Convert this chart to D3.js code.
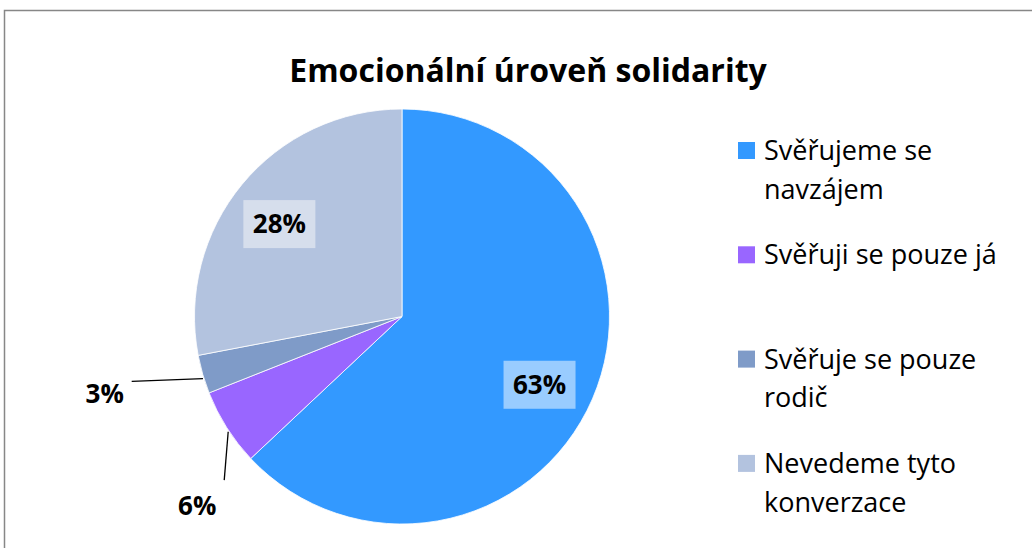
<!DOCTYPE html>
<html>
<head>
<meta charset="utf-8">
<script src="https://cdn.jsdelivr.net/npm/d3@7"></script>
<style>
  body { margin: 0; background: #fff; }
  text { font-family: "Open Sans", "Noto Sans", sans-serif; }
</style>
</head>
<body>
<script>
// Chart data
var categories = ["Svěřujeme se navzájem", "Svěřuji se pouze já", "Svěřuje se pouze rodič", "Nevedeme tyto konverzace"];
var values = [63, 6, 3, 28];
var colors = ["#3399FF", "#9966FF", "#7F9BC8", "#B3C3DF"];
var labelFills = ["#99CCFF", null, null, "#D6DEEC"];
var title = "Emocionální úroveň solidarity";

// Label placement (Excel "best fit" look): radius factor and angle nudge in degrees
var labelRadius = [0.74, 1.345, 1.48, 0.74];
var labelNudge = [3, -10.4, 1.7, -2.6];

var width = 1032, height = 548;
var cx = 402, cy = 316.5, r = 207.5;

var svg = d3.select("body").append("svg")
    .attr("width", width)
    .attr("height", height);

// Chart frame
svg.append("rect")
    .attr("x", 4.5).attr("y", 10.5)
    .attr("width", width + 10).attr("height", height + 10)
    .attr("fill", "none")
    .attr("stroke", "#878787")
    .attr("stroke-width", 1.5);

// Title
svg.append("text")
    .attr("x", 528).attr("y", 82)
    .attr("text-anchor", "middle")
    .style("font-size", "32px")
    .style("font-weight", "bold")
    .text(title);

var data = values.map(function(v, i) {
  return {name: categories[i], value: v, color: colors[i], i: i};
});

var pie = d3.pie().sort(null).value(function(d) { return d.value; });
var arcs = pie(data);
var arc = d3.arc().innerRadius(0).outerRadius(r);

var g = svg.append("g").attr("transform", "translate(" + cx + "," + cy + ")");

g.selectAll("path.slice")
    .data(arcs)
    .enter().append("path")
    .attr("class", "slice")
    .attr("d", arc)
    .attr("fill", function(d) { return d.data.color; })
    .attr("stroke", "#fff")
    .attr("stroke-width", 0.8);

// Data labels
function polar(rad, ang) {
  return [rad * Math.sin(ang), -rad * Math.cos(ang)];
}

arcs.forEach(function(d, i) {
  var mid = (d.startAngle + d.endAngle) / 2;
  var ang = mid + labelNudge[i] * Math.PI / 180;
  var p = polar(r * labelRadius[i], ang);
  var txt = d.data.value + "%";
  var inside = labelRadius[i] < 1;

  if (inside) {
    g.append("rect")
        .attr("x", p[0] - 36).attr("y", p[1] - 24)
        .attr("width", 72).attr("height", 48)
        .attr("fill", labelFills[i]);
  } else {
    // Leader line from slice edge to the nearest corner of the label
    var e = polar(r * 1.005, mid - 0.02);
    var dx = e[0] - p[0], dy = e[1] - p[1];
    var ex = p[0] + Math.sign(dx) * 27;
    var ey = p[1] + Math.sign(dy) * (Math.abs(dy) > Math.abs(dx) ? 26 : 12);
    g.append("line")
        .attr("x1", e[0]).attr("y1", e[1])
        .attr("x2", ex).attr("y2", ey)
        .attr("stroke", "#000")
        .attr("stroke-width", 1.3);
  }

  g.append("text")
      .attr("x", p[0]).attr("y", p[1])
      .attr("dy", "0.36em")
      .attr("text-anchor", "middle")
      .style("font-size", "26px")
      .style("font-weight", "bold")
      .text(txt);
});

// Legend
var legend = svg.append("g").attr("transform", "translate(738,0)");
var maxW = 252;

data.forEach(function(d, i) {
  var base = 160 + i * 104.3;
  legend.append("rect")
      .attr("x", 0).attr("y", base - 18)
      .attr("width", 17).attr("height", 17)
      .attr("fill", d.color);

  var t = legend.append("text")
      .attr("x", 26).attr("y", base)
      .style("font-size", "27px")
      .attr("fill", "#000");

  // wrap words onto lines
  var words = d.name.split(" "), line = [], lineNo = 0;
  var ts = t.append("tspan").attr("x", 26).attr("y", base);
  words.forEach(function(w) {
    line.push(w);
    ts.text(line.join(" "));
    if (ts.node().getComputedTextLength() > maxW && line.length > 1) {
      line.pop();
      ts.text(line.join(" "));
      line = [w];
      lineNo++;
      ts = t.append("tspan").attr("x", 26).attr("y", base + lineNo * 38.8).text(w);
    }
  });
});
</script>
</body>
</html>
